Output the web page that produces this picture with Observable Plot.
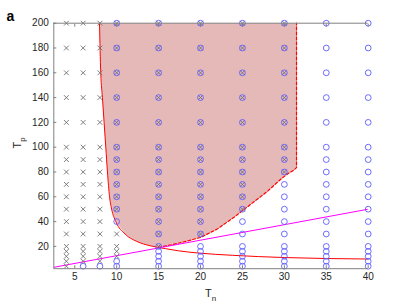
<!DOCTYPE html>
<html><head><meta charset="utf-8">
<script src="https://cdn.jsdelivr.net/npm/d3@7"></script>
<script src="https://cdn.jsdelivr.net/npm/@observablehq/plot@0.6"></script>
<style>body{margin:0;background:#fff} svg{display:block}</style>
</head><body><div id="chart"></div>
<script>
// ---- data ----
const xTicks = [5, 10, 15, 20, 25, 30, 35, 40];
const yTicks = [20, 40, 60, 80, 100, 120, 140, 160, 180, 200];
const tpGrid = [4, 8, 12, 16, 20, 30, 40, 50, 60, 70, 80, 90, 100, 120, 140, 160, 180, 200];

// crosses: column Tn, lowest and highest Tp of each run
const crossTn   = [4, 6, 8, 10, 10, 15, 20, 25, 30];
const crossFrom = [4, 8, 8, 12, 50, 20, 30, 50, 80];
const crossTo   = [200, 200, 200, 30, 200, 200, 200, 200, 200];
// circles: column Tn, lowest and highest Tp of each run
const circleTn   = [6, 8, 10, 10, 15, 20, 25, 30, 35, 40];
const circleFrom = [4, 4, 4, 40, 4, 4, 4, 4, 4, 4];
const circleTo   = [4, 4, 8, 200, 200, 200, 200, 200, 200, 200];

// solid red boundary curve
const curveTn = [7.95, 8.1, 8.3, 8.5, 8.7, 8.9, 9.15, 9.4, 9.9, 11.0, 12.4, 14.0, 15.8, 17.4, 19.8, 23.8, 30, 40];
const curveTp = [200, 160, 140, 120, 100, 80, 60, 50, 40, 30, 24, 20.5, 18.2, 16.4, 14.6, 12.8, 11.0, 9.8];
// dashed red boundary
const dashTn = [15.0, 16.5, 18.0, 20.0, 22.0, 24.0, 26.0, 28.0, 29.7, 30.5, 31.1, 31.45, 31.45];
const dashTp = [19.2, 21.2, 23.6, 27.2, 34.0, 43.5, 54.0, 64.5, 75.0, 79.0, 81.3, 83.5, 200];
// magenta line
const lineTn = [2.5, 40];
const lineTp = [3.125, 50];

const xDomain = [2.5, 40];
const yDomain = [2, 200];

// ---- build tables ----
function runs(cols, from, to) {
  const out = [];
  cols.forEach((c, i) => tpGrid.forEach(tp => { if (tp >= from[i] && tp <= to[i]) out.push({tn: c, tp}); }));
  return out;
}
const crosses = runs(crossTn, crossFrom, crossTo);
const circles = runs(circleTn, circleFrom, circleTo);
const curve = curveTn.map((tn, i) => ({tn, tp: curveTp[i]}));
const dash = dashTn.map((tn, i) => ({tn, tp: dashTp[i]}));
const magenta = lineTn.map((tn, i) => ({tn, tp: lineTp[i]}));
const region = curve.filter(d => d.tn < 15).concat(dash);

const W = 407, H = 305, mL = 53.3, mR = 39.3, mT = 22.7, mB = 36.8;
const grey = "#808080";

const svg = Plot.plot({
  width: W, height: H,
  marginLeft: mL, marginRight: mR, marginTop: mT, marginBottom: mB,
  x: {domain: xDomain},
  y: {domain: yDomain},
  style: {fontFamily: "'Liberation Sans', Arial, sans-serif", fontSize: "10px", color: "#262626", background: "white"},
  marks: [
    Plot.line(region, {x: "tn", y: "tp", fill: "#e6b9b9", stroke: "none"}),
    Plot.line(dash, {x: "tn", y: "tp", stroke: "#ff0000", strokeWidth: 1.2, strokeDasharray: "3,2"}),
    Plot.line(curve, {x: "tn", y: "tp", stroke: "#ff0000", strokeWidth: 1, curve: "monotone-x"}),
    Plot.line(magenta, {x: "tn", y: "tp", stroke: "#ff00ff", strokeWidth: 1, clip: true}),
    Plot.dot(crosses, {x: "tn", y: "tp", symbol: "times", r: 2.3, stroke: "#707070", strokeWidth: 0.9}),
    Plot.dot(circles, {x: "tn", y: "tp", symbol: "circle", r: 2.9, stroke: "#5c5cff", strokeWidth: 0.9, fill: "none"}),
    Plot.ruleX([xDomain[0]], {stroke: grey}),
    Plot.ruleY([yDomain[0]], {stroke: grey}),
    Plot.ruleY([yDomain[1]], {stroke: grey}),
    Plot.axisX(xTicks, {tickSize: -3, tickPadding: 7, stroke: grey, fill: "#262626", label: null}),
    Plot.axisX(xTicks, {anchor: "top", tickSize: -3, tickFormat: () => "", stroke: grey, label: null}),
    Plot.axisY(yTicks, {tickSize: -3, tickPadding: 8, stroke: grey, fill: "#262626", label: null})
  ]
});
document.getElementById("chart").appendChild(svg);

const s = d3.select(svg);
const font = "'Liberation Sans', Arial, sans-serif";
// x label
const xl = s.append("text").attr("x", (mL + W - mR) / 2).attr("y", 297).attr("text-anchor", "middle")
  .attr("font-family", font).attr("font-size", 11).attr("fill", "#262626");
xl.append("tspan").text("T");
xl.append("tspan").attr("font-size", 8).attr("dy", 4).text("n");
// y label
const yl = s.append("text").attr("transform", "translate(21,143) rotate(-90)").attr("text-anchor", "middle")
  .attr("font-family", font).attr("font-size", 11).attr("fill", "#262626");
yl.append("tspan").text("T");
yl.append("tspan").attr("font-size", 8).attr("dy", 4).text("p");
// panel letter
s.append("text").attr("x", 10.5).attr("y", 21).attr("font-family", font).attr("font-size", 14)
  .attr("font-weight", "bold").attr("fill", "#000").text("a");
</script></body></html>
